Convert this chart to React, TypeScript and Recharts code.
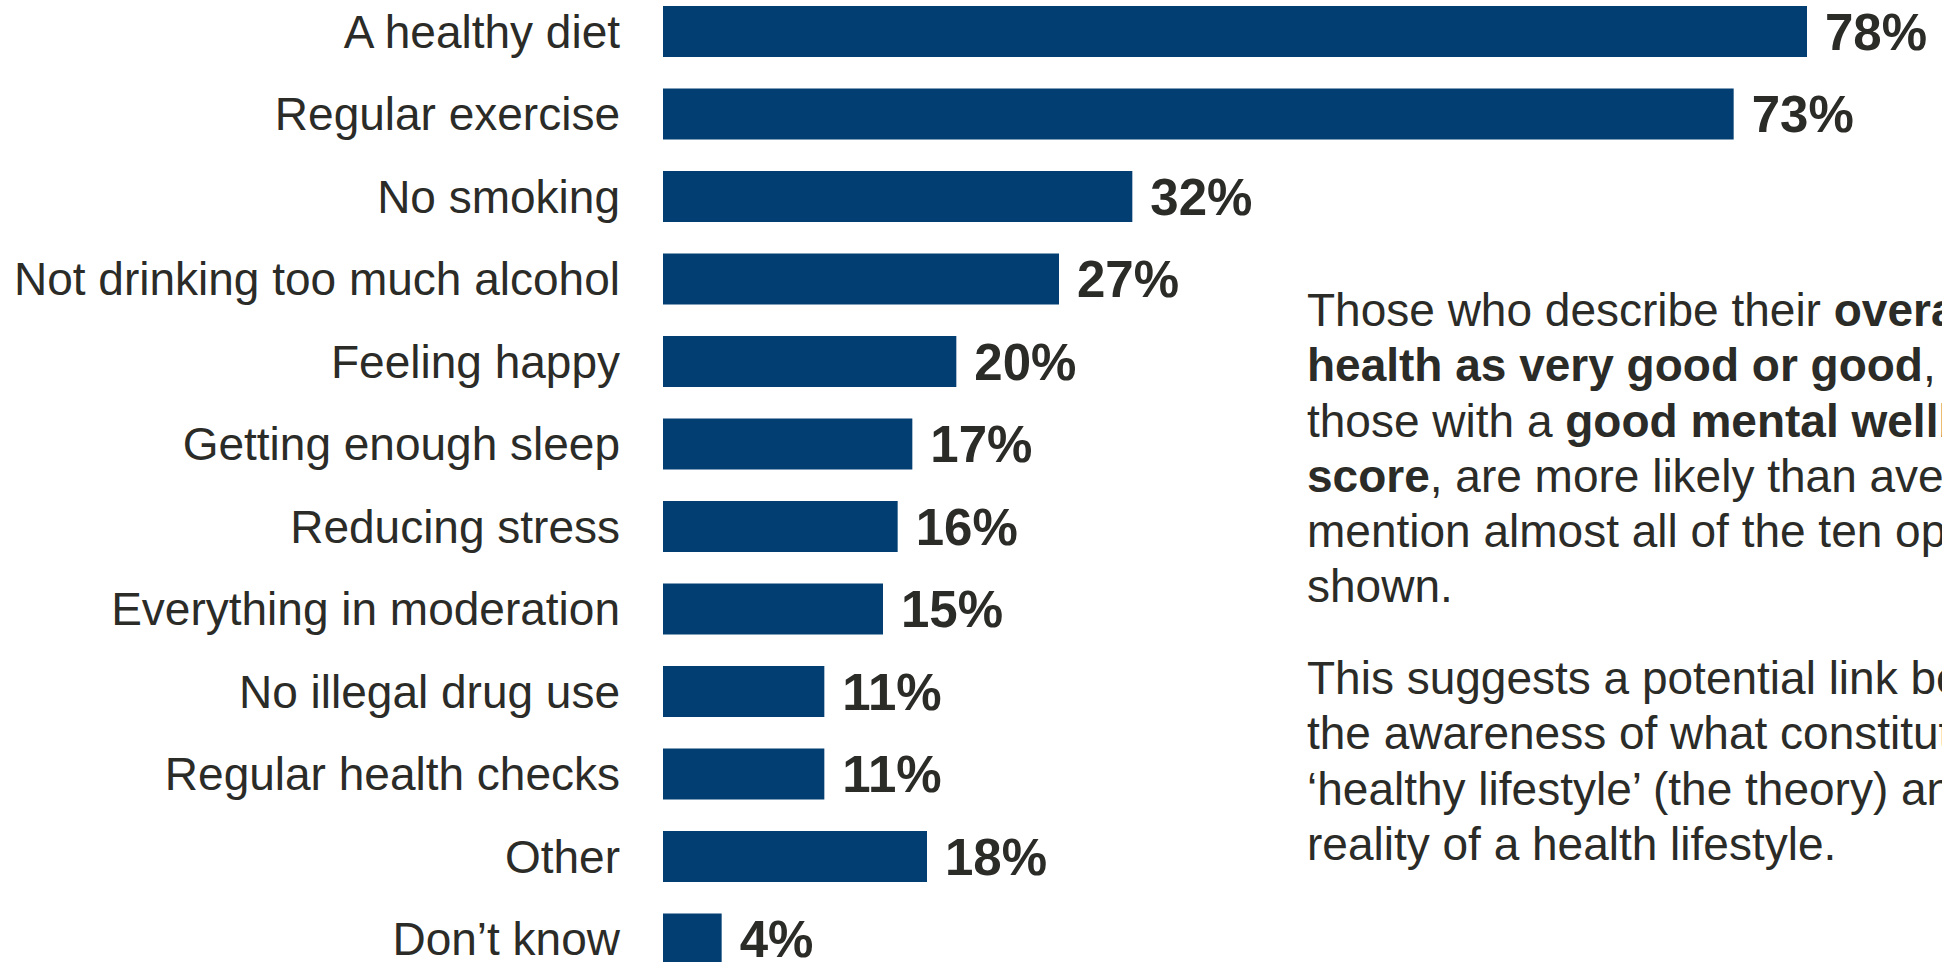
import { BarChart, Bar, XAxis, YAxis, LabelList } from "recharts"

const categories = [
  "A healthy diet",
  "Regular exercise",
  "No smoking",
  "Not drinking too much alcohol",
  "Feeling happy",
  "Getting enough sleep",
  "Reducing stress",
  "Everything in moderation",
  "No illegal drug use",
  "Regular health checks",
  "Other",
  "Don\u2019t know",
]
const values = [78, 73, 32, 27, 20, 17, 16, 15, 11, 11, 18, 4]

// note paragraphs, each line split into [text, bold] runs
const noteOne: [string, boolean][][] = [
  [["Those who describe their ", false], ["overall", true]],
  [["health as very good or good", true], [", and", false]],
  [["those with a ", false], ["good mental wellbeing", true]],
  [["score", true], [", are more likely than average to", false]],
  [["mention almost all of the ten options", false]],
  [["shown.", false]],
]
const noteTwo: [string, boolean][][] = [
  [["This suggests a potential link between", false]],
  [["the awareness of what constitutes a", false]],
  [["\u2018healthy lifestyle\u2019 (the theory) and the", false]],
  [["reality of a health lifestyle.", false]],
]

const FONT = "'Liberation Sans', Arial, Helvetica, sans-serif"
const INK = "#2b2b28"
const BLUE = "#033e73"

const chartData = categories.map((name, i) => ({ name, value: values[i] }))

function Paragraph({ lines, top }: { lines: [string, boolean][][]; top: number }) {
  return (
    <div
      style={{
        position: "absolute",
        left: 1307,
        top,
        fontFamily: FONT,
        fontSize: 46,
        lineHeight: "55.3px",
        color: INK,
        whiteSpace: "nowrap",
      }}
    >
      {lines.map((runs, i) => (
        <div key={i}>
          {runs.map(([t, b], j) => (
            <span key={j} style={{ fontWeight: b ? 700 : 400 }}>
              {t}
            </span>
          ))}
        </div>
      ))}
    </div>
  )
}

export default function App() {
  return (
    <div
      style={{
        position: "fixed",
        left: 0,
        top: 0,
        width: 1942,
        height: 962,
        overflow: "hidden",
        background: "#fff",
      }}
    >
      <div style={{ position: "absolute", left: 0, top: -10 }}>
        <BarChart
          layout="vertical"
          width={1942}
          height={990}
          data={chartData}
          margin={{ top: 0, right: 3, left: 0, bottom: 0 }}
          barSize={51}
        >
          <XAxis type="number" domain={[0, 87]} hide />
          <YAxis
            type="category"
            dataKey="name"
            width={663}
            axisLine={false}
            tickLine={false}
            tickSize={0}
            tickMargin={43}
            interval={0}
            tick={{ fill: INK, fontSize: 46, fontFamily: FONT }}
          />
          <Bar dataKey="value" fill={BLUE} isAnimationActive={false}>
            <LabelList
              dataKey="value"
              position="right"
              offset={18}
              formatter={(v: any) => `${v}%`}
              style={{ fill: INK, fontSize: 51, fontWeight: 700, fontFamily: FONT }}
            />
          </Bar>
        </BarChart>
      </div>
      <Paragraph lines={noteOne} top={283} />
      <Paragraph lines={noteTwo} top={651} />
    </div>
  )
}
